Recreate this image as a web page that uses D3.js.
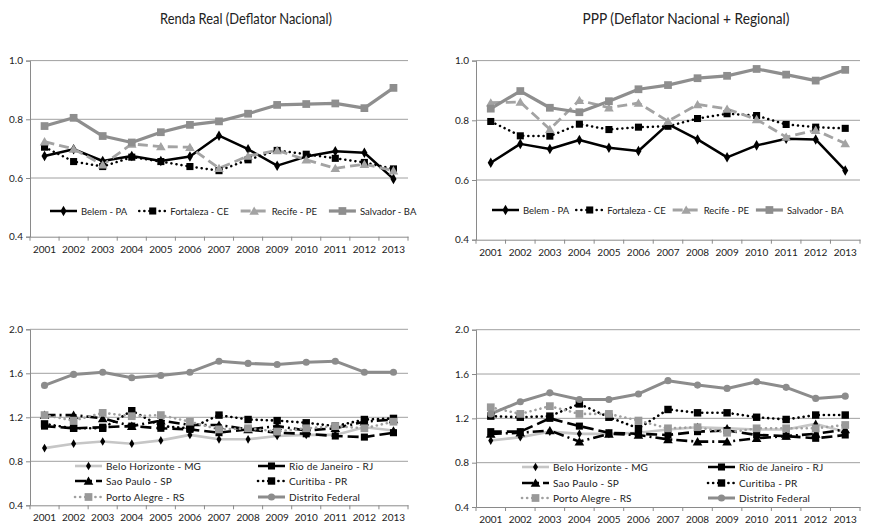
<!DOCTYPE html>
<html>
<head>
<meta charset="utf-8">
<script src="https://cdn.jsdelivr.net/npm/d3@7"></script>
<style>
  body { margin: 0; background: #fff; }
  text { font-family: Lato, "Open Sans", sans-serif; fill: #222; }
</style>
</head>
<body>
<svg id="chart" width="869" height="529"></svg>
<script>
// Tick labels / categories
const years = ["2001","2002","2003","2004","2005","2006","2007","2008","2009","2010","2011","2012","2013"];
const topTicks = [0.4, 0.6, 0.8, 1.0];
const bottomTicks = [0.4, 0.8, 1.2, 1.6, 2.0];

// North / Northeast capitals
const northNames = ["Belem - PA", "Fortaleza - CE", "Recife - PE", "Salvador - BA"];
// Renda Real (Deflator Nacional)
const rendaBelem     = [0.675, 0.698, 0.658, 0.675, 0.658, 0.673, 0.744, 0.698, 0.642, 0.673, 0.691, 0.686, 0.597];
const rendaFortaleza = [0.705, 0.656, 0.639, 0.671, 0.656, 0.639, 0.625, 0.662, 0.694, 0.681, 0.667, 0.653, 0.631];
const rendaRecife    = [0.724, 0.699, 0.645, 0.716, 0.707, 0.705, 0.633, 0.675, 0.694, 0.662, 0.633, 0.647, 0.625];
const rendaSalvador  = [0.777, 0.805, 0.743, 0.721, 0.756, 0.781, 0.793, 0.819, 0.849, 0.852, 0.854, 0.838, 0.907];
// PPP (Deflator Nacional + Regional)
const pppBelem     = [0.658, 0.721, 0.704, 0.734, 0.708, 0.697, 0.787, 0.736, 0.676, 0.716, 0.738, 0.736, 0.632];
const pppFortaleza = [0.796, 0.748, 0.747, 0.787, 0.769, 0.777, 0.780, 0.806, 0.822, 0.816, 0.786, 0.777, 0.773];
const pppRecife    = [0.859, 0.861, 0.770, 0.867, 0.842, 0.858, 0.797, 0.853, 0.838, 0.803, 0.744, 0.767, 0.722];
const pppSalvador  = [0.839, 0.898, 0.842, 0.827, 0.864, 0.904, 0.918, 0.941, 0.949, 0.972, 0.953, 0.933, 0.969];

// South / Southeast capitals + DF
const southNames = ["Belo Horizonte - MG", "Rio de Janeiro - RJ", "Sao Paulo - SP", "Curitiba - PR", "Porto Alegre - RS", "Distrito Federal"];
// Renda Real (Deflator Nacional)
const rendaBH  = [0.92, 0.96, 0.98, 0.96, 0.99, 1.04, 1.00, 1.00, 1.03, 1.04, 1.04, 1.11, 1.08];
const rendaRio = [1.12, 1.10, 1.11, 1.12, 1.10, 1.09, 1.06, 1.09, 1.06, 1.05, 1.03, 1.02, 1.06];
const rendaSP  = [1.22, 1.22, 1.19, 1.12, 1.17, 1.13, 1.13, 1.09, 1.12, 1.08, 1.10, 1.16, 1.18];
const rendaCur = [1.14, 1.10, 1.10, 1.26, 1.12, 1.10, 1.22, 1.18, 1.17, 1.15, 1.12, 1.18, 1.19];
const rendaPoa = [1.22, 1.17, 1.24, 1.21, 1.22, 1.16, 1.09, 1.10, 1.07, 1.10, 1.12, 1.10, 1.16];
const rendaDF  = [1.49, 1.59, 1.61, 1.56, 1.58, 1.61, 1.71, 1.69, 1.68, 1.70, 1.71, 1.61, 1.61];
// PPP (Deflator Nacional + Regional)
const pppBH  = [1.00, 1.03, 1.08, 1.06, 1.06, 1.07, 1.10, 1.12, 1.11, 1.10, 1.10, 1.15, 1.08];
const pppRio = [1.08, 1.08, 1.20, 1.13, 1.07, 1.06, 1.05, 1.08, 1.09, 1.05, 1.04, 1.02, 1.05];
const pppSP  = [1.06, 1.07, 1.09, 0.99, 1.06, 1.05, 1.01, 0.99, 0.99, 1.02, 1.04, 1.06, 1.10];
const pppCur = [1.22, 1.21, 1.22, 1.33, 1.21, 1.11, 1.28, 1.25, 1.25, 1.21, 1.19, 1.23, 1.23];
const pppPoa = [1.30, 1.24, 1.31, 1.24, 1.24, 1.18, 1.11, 1.12, 1.07, 1.11, 1.11, 1.11, 1.14];
const pppDF  = [1.24, 1.35, 1.43, 1.37, 1.37, 1.42, 1.54, 1.50, 1.47, 1.53, 1.48, 1.38, 1.40];

// Line / marker styles by series name
const styles = {
  "Belem - PA":          { color: "#000", width: 2.5, dash: null,      marker: d3.symbolDiamond,  size: 32, mcolor: "#000" },
  "Fortaleza - CE":      { color: "#000", width: 2.5, dash: "0.1,5",   marker: d3.symbolSquare,   size: 50, mcolor: "#000", round: true },
  "Recife - PE":         { color: "#a3a3a3", width: 2.8, dash: "10,5", marker: d3.symbolTriangle, size: 40, mcolor: "#a3a3a3" },
  "Salvador - BA":       { color: "#8e8e8e", width: 3.2, dash: null,   marker: d3.symbolSquare,   size: 60, mcolor: "#8e8e8e" },
  "Belo Horizonte - MG": { color: "#c6c6c6", width: 2.6, dash: null,   marker: d3.symbolDiamond,  size: 22, mcolor: "#000" },
  "Rio de Janeiro - RJ": { color: "#000", width: 2.6, dash: "11,5",    marker: d3.symbolSquare,   size: 50, mcolor: "#000" },
  "Sao Paulo - SP":      { color: "#000", width: 2.6, dash: "11,4,2,4", marker: d3.symbolTriangle, size: 40, mcolor: "#000" },
  "Curitiba - PR":       { color: "#000", width: 2.6, dash: "0.1,5",   marker: d3.symbolSquare,   size: 55, mcolor: "#000", round: true },
  "Porto Alegre - RS":   { color: "#a0a0a0", width: 2.6, dash: "0.1,5", marker: d3.symbolSquare,  size: 60, mcolor: "#999", round: true },
  "Distrito Federal":    { color: "#8c8c8c", width: 3,   dash: null,   marker: d3.symbolCircle,   size: 40, mcolor: "#8c8c8c" }
};

const svg = d3.select("#chart");

// Titles
svg.append("text").attr("x", 246).attr("y", 24).attr("text-anchor", "middle")
  .style("font-size", "16px").attr("textLength", 172).attr("lengthAdjust", "spacingAndGlyphs")
  .text("Renda Real (Deflator Nacional)");
svg.append("text").attr("x", 686).attr("y", 24).attr("text-anchor", "middle")
  .style("font-size", "16px").attr("textLength", 207).attr("lengthAdjust", "spacingAndGlyphs")
  .text("PPP (Deflator Nacional + Regional)");

const panels = [
  { left: 30,  right: 408, top: 60.6, bottom: 236.7, domain: [0.4, 1.0], ticks: topTicks,
    names: northNames, values: [rendaBelem, rendaFortaleza, rendaRecife, rendaSalvador],
    legend: { type: "row", x: 50, y: 211, gap: 12 } },
  { left: 476, right: 860, top: 60.6, bottom: 239.7, domain: [0.4, 1.0], ticks: topTicks,
    names: northNames, values: [pppBelem, pppFortaleza, pppRecife, pppSalvador],
    legend: { type: "row", x: 492, y: 210, gap: 7 } },
  { left: 30,  right: 408, top: 329.3, bottom: 505.3, domain: [0.4, 2.0], ticks: bottomTicks,
    names: southNames, values: [rendaBH, rendaRio, rendaSP, rendaCur, rendaPoa, rendaDF],
    legend: { type: "grid", cols: [75, 258], rows: [466, 481, 497] } },
  { left: 476, right: 860, top: 329.7, bottom: 507, domain: [0.4, 2.0], ticks: bottomTicks,
    names: southNames, values: [pppBH, pppRio, pppSP, pppCur, pppPoa, pppDF],
    legend: { type: "grid", cols: [522, 708], rows: [467, 483, 498] } }
];

function applyStyle(sel, st) {
  sel.attr("fill", "none")
    .attr("stroke", st.color)
    .attr("stroke-width", st.width)
    .attr("stroke-dasharray", st.dash)
    .attr("stroke-linecap", st.round ? "round" : "butt")
    .attr("stroke-linejoin", "round");
}

function drawMarker(g, st, x, y) {
  g.append("path")
    .attr("d", d3.symbol().type(st.marker).size(st.size)())
    .attr("transform", `translate(${x},${y})${st.marker === d3.symbolTriangle ? " translate(0,1)" : ""}`)
    .attr("fill", st.mcolor);
}

function drawPanel(p) {
  const g = svg.append("g");
  const x = d3.scaleBand().domain(years).range([p.left, p.right]);
  const y = d3.scaleLinear().domain(p.domain).range([p.bottom, p.top]);
  const cx = d => x(d) + x.bandwidth() / 2;

  // gridlines
  g.append("g").selectAll("line")
    .data(p.ticks.filter(t => t > p.domain[0]))
    .enter().append("line")
    .attr("x1", p.left).attr("x2", p.right)
    .attr("y1", d => y(d)).attr("y2", d => y(d))
    .attr("stroke", "#a0a0a0").attr("stroke-width", 1);

  // y axis
  const ya = g.append("g").attr("transform", `translate(${p.left},0)`)
    .call(d3.axisLeft(y).tickValues(p.ticks).tickSize(4).tickPadding(3).tickFormat(d3.format(".1f")));
  ya.select(".domain").attr("stroke", "#8a8a8a");
  ya.selectAll(".tick line").attr("stroke", "#8a8a8a");
  ya.selectAll("text").style("font-size", "10px").attr("fill", "#222").style("font-family", "Lato, sans-serif");

  // x axis
  const xa = g.append("g").attr("transform", `translate(0,${p.bottom})`)
    .call(d3.axisBottom(x).tickSize(0).tickPadding(9));
  xa.select(".domain").attr("stroke", "#8a8a8a");
  xa.selectAll("text").style("font-size", "10px").attr("fill", "#222").style("font-family", "Lato, sans-serif");
  xa.selectAll(".bound").data(d3.range(years.length + 1)).enter().append("line")
    .attr("x1", i => p.left + i * x.bandwidth()).attr("x2", i => p.left + i * x.bandwidth())
    .attr("y1", 0).attr("y2", 4).attr("stroke", "#8a8a8a");

  // series
  const line = d3.line().x((d, i) => cx(years[i])).y(d => y(d));
  p.names.forEach((name, k) => {
    const st = styles[name];
    g.append("path").datum(p.values[k]).attr("d", line).call(applyStyle, st);
  });
  p.names.forEach((name, k) => {
    const st = styles[name];
    p.values[k].forEach((v, i) => drawMarker(g, st, cx(years[i]), y(v)));
  });

  // legend
  const lg = g.append("g");
  function legendItem(name, lx, ly, fs, ls) {
    const st = styles[name];
    lg.append("line").attr("x1", lx).attr("x2", lx + 27).attr("y1", ly).attr("y2", ly).call(applyStyle, st);
    drawMarker(lg, st, lx + 13.5, ly);
    return lg.append("text").attr("x", lx + 31).attr("y", ly + 3.5)
      .style("font-size", fs).style("letter-spacing", ls).text(name);
  }
  if (p.legend.type === "row") {
    let lx = p.legend.x;
    p.names.forEach(name => {
      const t = legendItem(name, lx, p.legend.y, "9.5px", "0px");
      lx += 31 + t.node().getComputedTextLength() + p.legend.gap;
    });
  } else {
    p.names.forEach((name, k) => {
      legendItem(name, p.legend.cols[k % 2], p.legend.rows[Math.floor(k / 2)], "10px", "0.2px");
    });
  }
}

panels.forEach(drawPanel);
</script>
</body>
</html>
